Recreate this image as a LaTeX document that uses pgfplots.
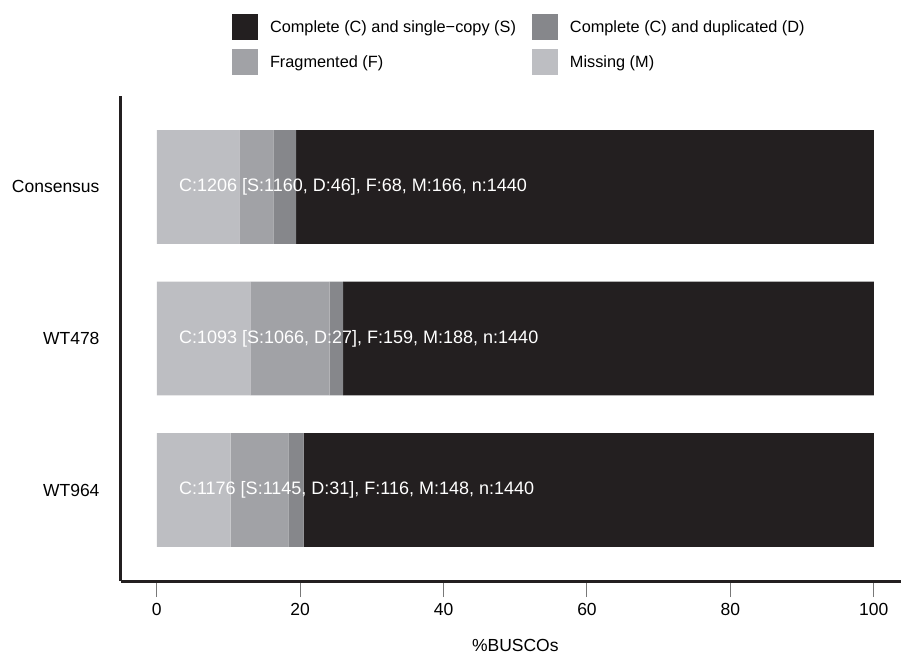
\documentclass[border=0pt]{standalone}
\usepackage{fontspec}
\setmainfont{Liberation Sans}
\usepackage{pgfplots}
\usepackage{pgfplotstable}
\pgfplotsset{compat=1.18}
\definecolor{cS}{RGB}{35,31,32}
\definecolor{cD}{RGB}{134,135,139}
\definecolor{cF}{RGB}{161,162,166}
\definecolor{cM}{RGB}{189,190,194}
\definecolor{tickgray}{RGB}{120,120,120}
\newcommand\mainfnt{\fontsize{17.5bp}{21bp}\selectfont}
\newcommand\legfnt{\fontsize{16.3bp}{20bp}\selectfont}
\newcommand\annfnt{\fontsize{18bp}{21bp}\selectfont}
\pgfplotstableread{
y M F D S
0 10.2778 8.0556 2.1528 79.5139
1 13.0556 11.0417 1.8750 74.0278
2 11.5278 4.7222 3.1944 80.5556
}\busco
\begin{document}
\begin{tikzpicture}
\begin{axis}[
  width=788.6bp, height=485bp, scale only axis,
  xmin=-5, xmax=105, ymin=-0.6, ymax=2.6,
  xbar stacked, bar width=0.75,
  axis x line=bottom, axis y line=left,
  axis line style={-, line width=3bp, color=cS},
  xtick={0,20,40,60,80,100},
  ytick={0,1,2}, yticklabels={WT964,WT478,Consensus},
  tick align=outside,
  major tick length=16bp,
  xtick style={color=tickgray, line width=1bp},
  ytick style={draw=none},
  /pgf/number format/assume math mode=true,
  ticklabel style={font=\mainfnt},
  xticklabel style={yshift=-3bp},
  yticklabel style={xshift=-2bp},
  xlabel={\%BUSCOs}, xlabel style={font=\mainfnt, yshift=-17bp},
  legend columns=2, reverse legend,
  legend cell align=left,
  legend image code/.code={\fill[#1] (0bp,-13bp) rectangle (26bp,13bp);},
  legend style={draw=none, fill=none, font=\legfnt,
    at={(0.1408,1.169)}, anchor=north west, inner sep=0pt, outer sep=0pt,
    row sep=9bp, column sep=12bp,
    /tikz/every even column/.append style={column sep=16bp},
    nodes={inner sep=0pt}},
]
\addplot[fill=cM, draw=none] table[x=M, y=y] {\busco};
\addlegendentry{Missing (M)}
\addplot[fill=cF, draw=none] table[x=F, y=y] {\busco};
\addlegendentry{Fragmented (F)}
\addplot[fill=cD, draw=none] table[x=D, y=y] {\busco};
\addlegendentry{Complete (C) and duplicated (D)}
\addplot[fill=cS, draw=none] table[x=S, y=y] {\busco};
\addlegendentry{Complete (C) and single−copy (S)}
\coordinate (t2) at (axis cs:3.07,2);
\coordinate (t1) at (axis cs:3.07,1);
\coordinate (t0) at (axis cs:3.07,0);
\coordinate (O) at (rel axis cs:0,0);
\end{axis}
\node[anchor=west, inner sep=0pt, text=white, font=\annfnt] at (t2) {C:1206 [S:1160, D:46], F:68, M:166, n:1440};
\node[anchor=west, inner sep=0pt, text=white, font=\annfnt] at (t1) {C:1093 [S:1066, D:27], F:159, M:188, n:1440};
\node[anchor=west, inner sep=0pt, text=white, font=\annfnt] at (t0) {C:1176 [S:1145, D:31], F:116, M:148, n:1440};
\pgfresetboundingbox
\path[use as bounding box] ([xshift=-121bp,yshift=-73bp]O) rectangle ([xshift=780bp,yshift=581bp]O);
\end{tikzpicture}
\end{document}
